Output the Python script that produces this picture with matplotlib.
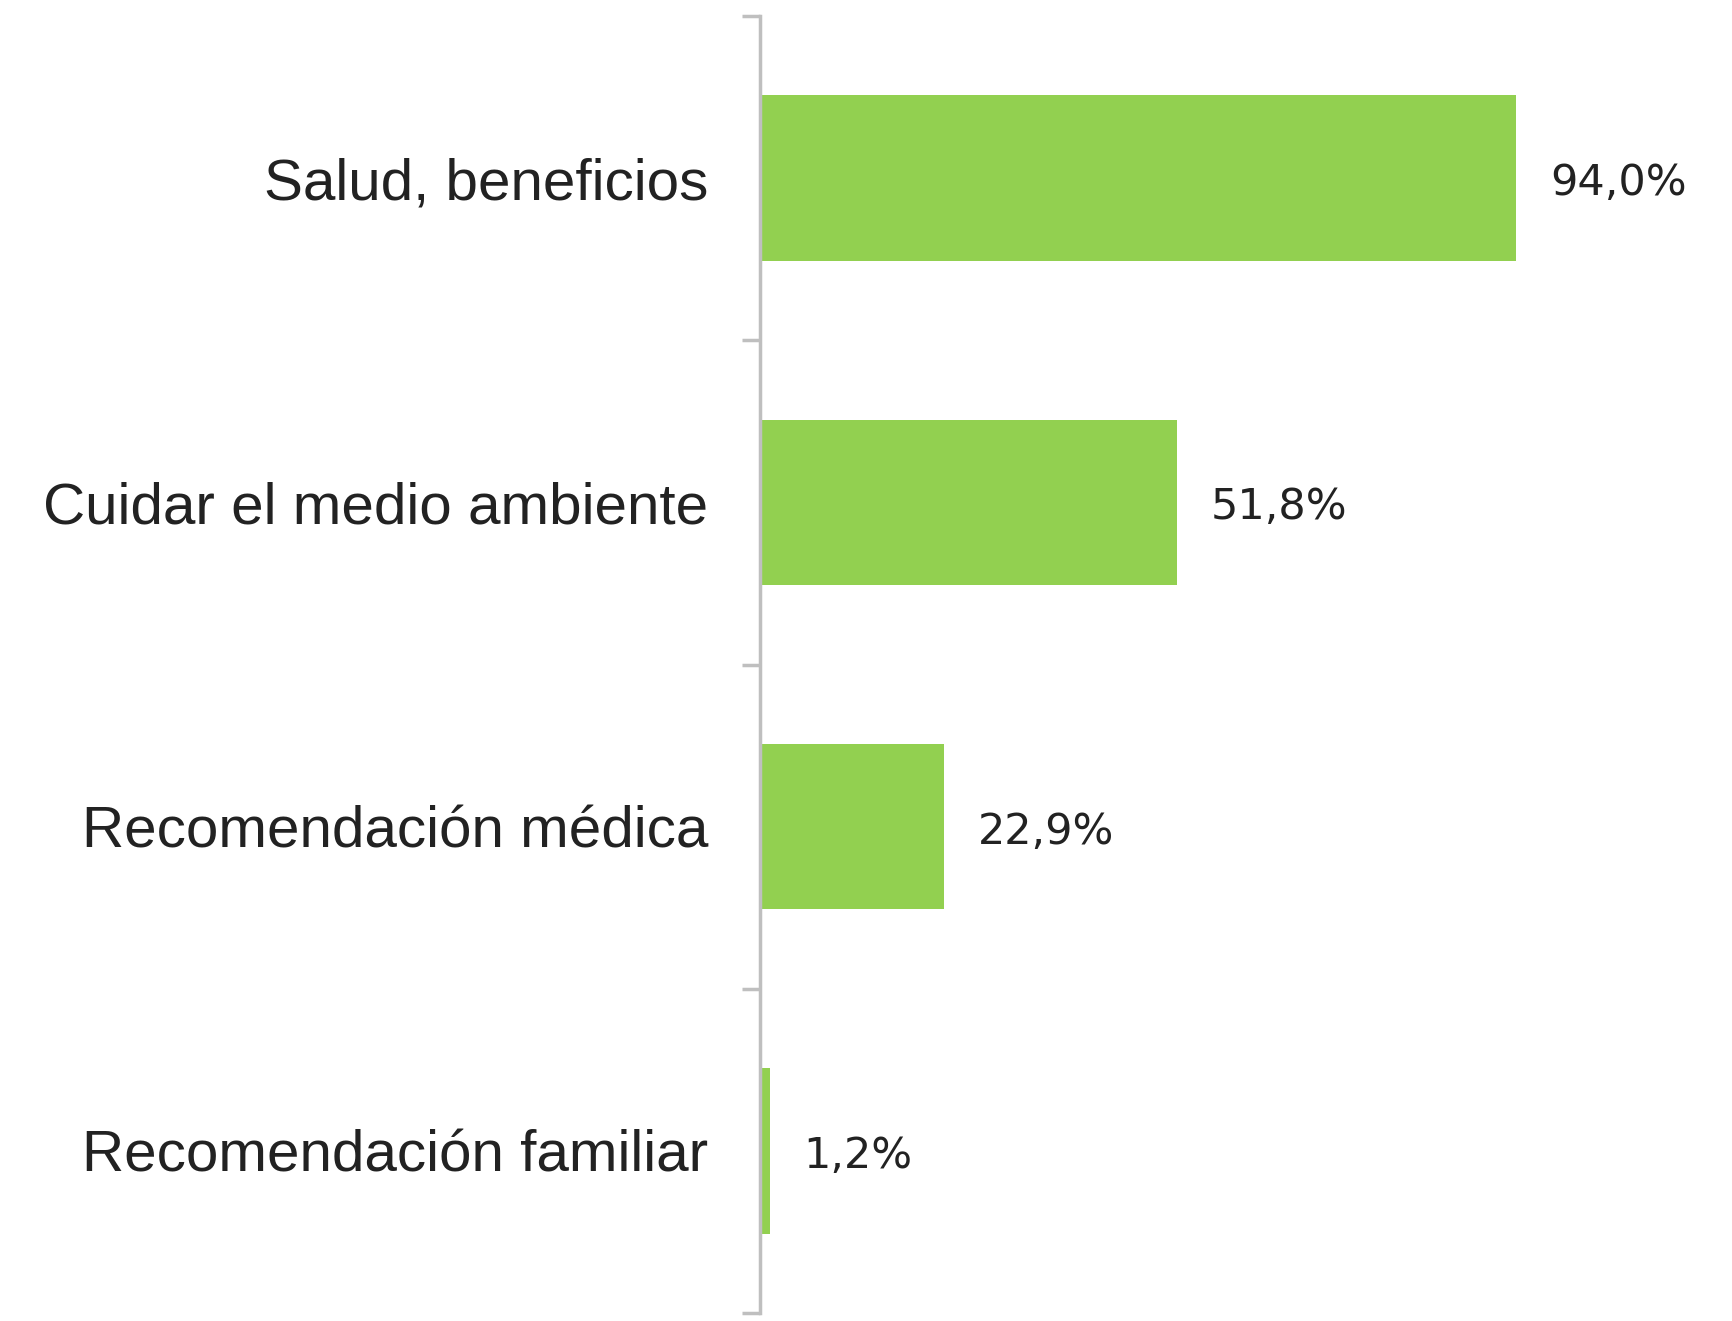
import matplotlib
matplotlib.use("Agg")
import matplotlib.pyplot as plt
import numpy as np

categories = ["Salud, beneficios", "Cuidar el medio ambiente", "Recomendación médica", "Recomendación familiar"]
values = [94.0, 51.8, 22.9, 1.2]
value_labels = ["94,0%", "51,8%", "22,9%", "1,2%"]

W, H = 1733, 1321
fig = plt.figure(figsize=(W/100, H/100), dpi=100)
ax = fig.add_axes([760/W, 1 - 1313/H, (W - 760)/W, (1313 - 16)/H])

y = np.arange(len(categories))
ax.barh(y, values, height=0.51, color="#92D050")
ax.set_ylim(len(categories) - 0.5, -0.5)
ax.set_xlim(0, 121)

for yi, v, lab in zip(y, values, value_labels):
    ax.annotate(lab, (v, yi), xytext=(34, -5), textcoords="offset pixels",
                ha="left", va="center", fontsize=31, color="#222222",
                family="DejaVu Sans")

ax.set_yticks(y)
ax.set_yticklabels(categories, fontsize=42, family="Liberation Sans", color="#222222")
ax.set_yticks(np.arange(-0.5, len(categories) + 0.5, 1), minor=True)
ax.tick_params(axis="y", which="major", length=0, pad=37)
ax.tick_params(axis="y", which="minor", length=13, width=2.5, color="#BFBFBF")
ax.set_xticks([])
for s in ["top", "right", "bottom"]:
    ax.spines[s].set_visible(False)
ax.spines["left"].set_color("#BFBFBF")
ax.spines["left"].set_linewidth(2.5)

fig.savefig("out.png", dpi=100, facecolor="white")
